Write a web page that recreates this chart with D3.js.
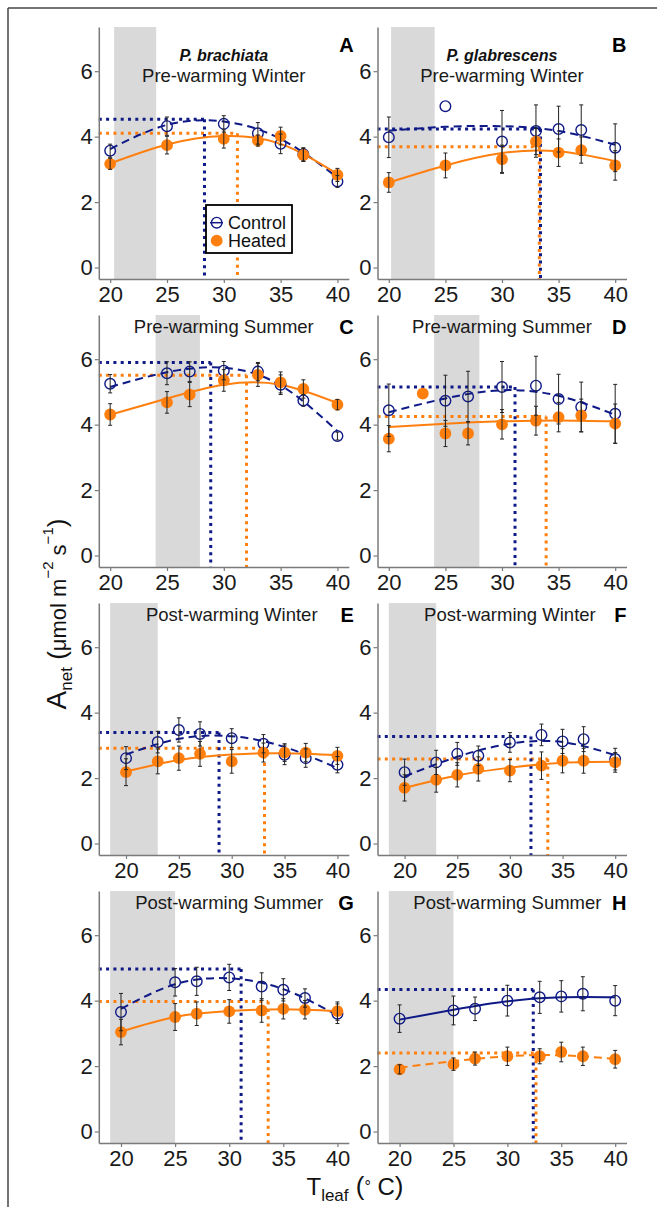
<!DOCTYPE html>
<html>
<head>
<meta charset="utf-8">
<script src="https://cdn.jsdelivr.net/npm/d3@7"></script>
<style>
body { margin: 0; background: #fff; }
svg text { font-family: "Liberation Sans", Arial, sans-serif; }
</style>
</head>
<body>
<svg id="chart" width="657" height="1207"></svg>
<script>
const panelIds = ['A', 'B', 'C', 'D', 'E', 'F', 'G', 'H'];
const seasons = ['Pre-warming Winter', 'Pre-warming Winter', 'Pre-warming Summer', 'Pre-warming Summer',
    'Post-warming Winter', 'Post-warming Winter', 'Post-warming Summer', 'Post-warming Summer'];
const species = ['P. brachiata', 'P. glabrescens'];
const bandLo = [20.35, 20.2, 24, 24, 18.5, 18.5, 19, 19];
const bandHi = [24.05, 24.05, 27.9, 28, 23, 23, 25, 25];
const xTicks = [20, 25, 30, 35, 40];
const yTicks = [0, 2, 4, 6];

// control (open circles)
const ctrlT = [
    [20, 25, 30, 33, 35, 37, 40],
    [20, 25, 30, 33, 35, 37, 40],
    [20, 25, 27, 30, 33, 35, 37, 40],
    [20, 25, 27, 30, 33, 35, 37, 40],
    [20, 23, 25, 27, 30, 33, 35, 37, 40],
    [20, 23, 25, 27, 30, 33, 35, 37, 40],
    [20, 25, 27, 30, 33, 35, 37, 40],
    [20, 25, 27, 30, 33, 35, 37, 40]
];
const ctrlA = [
    [3.57, 4.32, 4.39, 4.10, 3.78, 3.46, 2.63],
    [3.98, 4.93, 3.85, 4.17, 4.23, 4.20, 3.66],
    [5.25, 5.57, 5.62, 5.65, 5.62, 5.22, 4.74, 3.65],
    [4.44, 4.73, 4.86, 5.15, 5.19, 4.78, 4.54, 4.33],
    [2.61, 3.10, 3.47, 3.35, 3.22, 3.05, 2.71, 2.61, 2.41],
    [2.18, 2.48, 2.74, 2.68, 3.09, 3.32, 3.12, 3.19, 2.58],
    [3.65, 4.56, 4.59, 4.71, 4.43, 4.33, 4.08, 3.60],
    [3.45, 3.70, 3.75, 4.00, 4.10, 4.13, 4.21, 4.00]
];
const ctrlSE = [
    [0.20, 0.28, 0.25, 0.33, 0.30, 0.20, 0.18],
    [0.62, 0, 0.95, 0.80, 0.70, 0.77, 0.73],
    [0.28, 0.35, 0.30, 0.28, 0.28, 0.30, 0.18, 0.12],
    [0.80, 0.78, 0.77, 0.78, 0.90, 0.76, 0.76, 0.90],
    [0.35, 0.33, 0.37, 0.37, 0.29, 0.28, 0.30, 0.28, 0.25],
    [0.40, 0.37, 0.35, 0.30, 0.30, 0.33, 0.37, 0.38, 0.33],
    [0.57, 0.42, 0.43, 0.40, 0.42, 0.34, 0.28, 0.30],
    [0.42, 0.44, 0.36, 0.47, 0.49, 0.48, 0.52, 0.46]
];

// heated (filled circles)
const heatT = [
    [20, 25, 30, 33, 35, 37, 40],
    [20, 25, 30, 33, 35, 37, 40],
    [20, 25, 27, 30, 33, 35, 37, 40],
    [20, 23, 25, 27, 30, 33, 35, 37, 40],
    [20, 23, 25, 27, 30, 33, 35, 37, 40],
    [20, 23, 25, 27, 30, 33, 35, 37, 40],
    [20, 25, 27, 30, 33, 35, 37, 40],
    [20, 25, 27, 30, 33, 35, 37, 40]
];
const heatA = [
    [3.17, 3.74, 3.93, 3.88, 4.02, 3.44, 2.83],
    [2.60, 3.12, 3.31, 3.85, 3.51, 3.59, 3.12],
    [4.31, 4.68, 4.92, 5.35, 5.52, 5.29, 5.09, 4.61],
    [3.57, 4.95, 3.73, 3.73, 4.01, 4.12, 4.23, 4.28, 4.03],
    [2.18, 2.51, 2.61, 2.74, 2.51, 2.78, 2.78, 2.78, 2.68],
    [1.70, 1.95, 2.10, 2.28, 2.23, 2.38, 2.53, 2.53, 2.48],
    [3.04, 3.50, 3.60, 3.67, 3.70, 3.75, 3.72, 3.68],
    [1.90, 2.06, 2.23, 2.30, 2.30, 2.43, 2.30, 2.21]
];
const heatSE = [
    [0.17, 0.27, 0.28, 0.17, 0.27, 0.20, 0.20],
    [0.30, 0.38, 0.43, 0.40, 0.42, 0.40, 0.45],
    [0.33, 0.33, 0.37, 0.33, 0.35, 0.32, 0.28, 0.16],
    [0.40, 0, 0.40, 0.35, 0.45, 0.44, 0.45, 0.50, 0.60],
    [0.41, 0.38, 0.37, 0.38, 0.36, 0.29, 0.27, 0.28, 0.26],
    [0.40, 0.38, 0.37, 0.37, 0.34, 0.42, 0.37, 0.38, 0.30],
    [0.39, 0.41, 0.36, 0.36, 0.36, 0.31, 0.28, 0.28],
    [0.14, 0.19, 0.20, 0.28, 0.23, 0.30, 0.28, 0.27]
];

// fitted curves, read at these temperatures
const fitT = [20, 25, 30, 35, 40];
const ctrlFit = [
    [3.62, 4.36, 4.46, 3.93, 2.75],
    [4.18, 4.30, 4.32, 4.17, 3.75],
    [5.15, 5.60, 5.74, 5.20, 3.80],
    [4.38, 4.80, 5.05, 4.88, 4.30],
    [2.72, 3.20, 3.28, 2.95, 2.30],
    [2.05, 2.65, 3.05, 3.10, 2.70],
    [3.75, 4.50, 4.68, 4.35, 3.55],
    [3.42, 3.72, 3.98, 4.10, 4.10]
];
const heatFit = [
    [3.18, 3.76, 4.02, 3.78, 2.86],
    [2.60, 3.12, 3.50, 3.55, 3.25],
    [4.30, 4.80, 5.22, 5.22, 4.66],
    [3.93, 4.03, 4.10, 4.13, 4.10],
    [2.20, 2.55, 2.72, 2.76, 2.70],
    [1.70, 2.08, 2.32, 2.47, 2.50],
    [3.05, 3.50, 3.68, 3.74, 3.68],
    [1.95, 2.15, 2.30, 2.33, 2.22]
];
const ctrlTopt = [28.3, 33.4, 28.85, 31.15, 28.8, 32.0, 31.1, 32.4];
const ctrlAmax = [4.53, 4.23, 5.90, 5.15, 3.39, 3.27, 4.97, 4.34];
const heatTopt = [31.2, 33.3, 32.0, 33.9, 33.1, 33.6, 33.6, 32.65];
const heatAmax = [4.10, 3.69, 5.51, 4.25, 2.91, 2.58, 3.97, 2.40];
const ctrlDashed = [true, true, true, true, true, true, true, false];
const heatDashed = [false, false, false, false, false, false, false, true];

const navy = '#0f1a86';
const orange = '#ff7f0e';
const axisGrey = '#7a7a7a';

const svg = d3.select('#chart');

const colX = [[98.8, 348.8], [377.5, 626.5]];
const rowTop = [27, 315, 603, 891];
const plotH = 252;

// figure frame
svg.append('line').attr('x1', 8).attr('y1', 8).attr('x2', 657).attr('y2', 8)
    .attr('stroke', '#444').attr('stroke-width', 1.5);
svg.append('line').attr('x1', 8).attr('y1', 8).attr('x2', 8).attr('y2', 1207)
    .attr('stroke', '#444').attr('stroke-width', 1.5);

const drawPanel = i => {
    const col = i % 2;
    const row = Math.floor(i / 2);
    const [x0, x1] = colX[col];
    const top = rowTop[row];
    const bottom = top + plotH;

    const lo = Math.min(20, bandLo[i]);
    const pad = 0.05 * (40 - lo);
    const x = d3.scaleLinear().domain([lo - pad, 40 + pad]).range([x0, x1]);
    const y = d3.scaleLinear().domain([-0.35, 7.35]).range([bottom, top]);

    const g = svg.append('g').attr('class', 'panel');

    g.append('rect')
        .attr('x', x(bandLo[i]))
        .attr('y', top)
        .attr('width', x(bandHi[i]) - x(bandLo[i]))
        .attr('height', plotH)
        .attr('fill', '#d9d9d9');

    // optimum reference lines
    const refs = [
        { topt: heatTopt[i], amax: heatAmax[i], color: orange },
        { topt: ctrlTopt[i], amax: ctrlAmax[i], color: navy }
    ];
    refs.forEach(r => {
        g.append('path')
            .attr('d', `M${x0},${y(r.amax)}H${x(r.topt)}`)
            .attr('stroke', r.color).attr('stroke-width', 3)
            .attr('stroke-dasharray', '3,4.3').attr('fill', 'none');
        g.append('path')
            .attr('d', `M${x(r.topt)},${y(r.amax)}V${bottom}`)
            .attr('stroke', r.color).attr('stroke-width', 3)
            .attr('stroke-dasharray', '3,4.3').attr('fill', 'none');
    });

    const line = d3.line()
        .x(d => x(d[0]))
        .y(d => y(d[1]))
        .curve(d3.curveNatural);

    g.append('path')
        .datum(fitT.map((t, k) => [t, ctrlFit[i][k]]))
        .attr('d', line)
        .attr('fill', 'none')
        .attr('stroke', navy)
        .attr('stroke-width', 2)
        .attr('stroke-dasharray', ctrlDashed[i] ? '8,5' : null);

    g.append('path')
        .datum(fitT.map((t, k) => [t, heatFit[i][k]]))
        .attr('d', line)
        .attr('fill', 'none')
        .attr('stroke', orange)
        .attr('stroke-width', 2)
        .attr('stroke-dasharray', heatDashed[i] ? '8,5' : null);

    const ctrl = ctrlT[i].map((t, k) => ({ t, a: ctrlA[i][k], se: ctrlSE[i][k] }));
    const heat = heatT[i].map((t, k) => ({ t, a: heatA[i][k], se: heatSE[i][k] }));

    g.selectAll('.ctrl')
        .data(ctrl)
        .enter()
        .append('circle')
        .attr('class', 'ctrl')
        .attr('cx', d => x(d.t))
        .attr('cy', d => y(d.a))
        .attr('r', 5.3)
        .attr('fill', 'none')
        .attr('stroke', navy)
        .attr('stroke-width', 1.4);

    g.selectAll('.heat')
        .data(heat)
        .enter()
        .append('circle')
        .attr('class', 'heat')
        .attr('cx', d => x(d.t))
        .attr('cy', d => y(d.a))
        .attr('r', 5.9)
        .attr('fill', orange);

    const bars = ctrl.concat(heat).filter(d => d.se > 0);
    bars.forEach(d => {
        const cx = x(d.t);
        const yt = y(d.a + d.se);
        const yb = y(d.a - d.se);
        g.append('path')
            .attr('d', `M${cx},${yt}V${yb}M${cx - 2},${yt}H${cx + 2}M${cx - 2},${yb}H${cx + 2}`)
            .attr('stroke', '#222')
            .attr('stroke-width', 1)
            .attr('fill', 'none');
    });

    // axes
    const yAxis = d3.axisLeft(y).tickValues(yTicks).tickSize(4).tickSizeOuter(0).tickPadding(2);
    const xAxis = d3.axisBottom(x).tickValues(xTicks).tickSize(4).tickSizeOuter(0).tickPadding(3.5);

    const ya = g.append('g').attr('transform', `translate(${x0},0)`).call(yAxis);
    const xa = g.append('g').attr('transform', `translate(0,${bottom})`).call(xAxis);
    [ya, xa].forEach(a => {
        a.select('.domain').attr('stroke', axisGrey).attr('stroke-width', 1.5);
        a.selectAll('.tick line').attr('stroke', axisGrey).attr('stroke-width', 1.2);
        a.selectAll('.tick text').attr('fill', '#1a1a1a').style('font-size', '22px')
            .style('font-family', '"Liberation Sans", Arial, sans-serif');
    });

    // titles
    const titleY = row === 0 ? top + 55 : top + 18;
    g.append('text')
        .attr('x', x(30))
        .attr('y', titleY)
        .attr('text-anchor', 'middle')
        .attr('fill', '#1a1a1a')
        .style('font-size', '18.5px')
        .text(seasons[i]);
    if (row === 0) {
        g.append('text')
            .attr('x', x(30))
            .attr('y', top + 34)
            .attr('text-anchor', 'middle')
            .attr('fill', '#111')
            .style('font-size', '16px')
            .style('font-weight', 'bold')
            .style('font-style', 'italic')
            .text(species[col]);
    }
    g.append('text')
        .attr('x', col === 0 ? x1 + 5 : x1)
        .attr('y', row === 0 ? top + 25 : top + 19)
        .attr('text-anchor', 'end')
        .attr('fill', '#000')
        .style('font-size', '20px')
        .style('font-weight', 'bold')
        .text(panelIds[i]);
};

panelIds.forEach((id, i) => drawPanel(i));

// legend in panel A
const leg = svg.append('g').attr('class', 'legend');
leg.append('rect')
    .attr('x', 206).attr('y', 205).attr('width', 86).attr('height', 48)
    .attr('fill', '#fff').attr('stroke', '#000').attr('stroke-width', 1.8);
leg.append('line').attr('x1', 210).attr('x2', 223).attr('y1', 222.7).attr('y2', 222.7)
    .attr('stroke', navy).attr('stroke-width', 1.5);
leg.append('circle').attr('cx', 216.7).attr('cy', 222.7).attr('r', 5.3)
    .attr('fill', 'none').attr('stroke', navy).attr('stroke-width', 1.4);
leg.append('circle').attr('cx', 216.7).attr('cy', 240.7).attr('r', 5.9)
    .attr('fill', orange);
leg.append('text').attr('x', 228).attr('y', 229).attr('fill', '#111')
    .style('font-size', '18px').text('Control');
leg.append('text').attr('x', 228).attr('y', 247).attr('fill', '#111')
    .style('font-size', '18px').text('Heated');

// y axis label
const yl = svg.append('text')
    .attr('transform', 'translate(66,614) rotate(-90)')
    .attr('text-anchor', 'middle')
    .attr('fill', '#111')
    .style('font-size', '22px');
yl.append('tspan').text('A').style('font-size', '28px');
yl.append('tspan').text('net').attr('dy', 6).style('font-size', '17px');
yl.append('tspan').text(' (').attr('dy', -6).style('font-size', '26px');
yl.append('tspan').text('μmol m');
yl.append('tspan').text('−2').attr('dy', -13).style('font-size', '15px');
yl.append('tspan').text(' s').attr('dy', 13);
yl.append('tspan').text('−1').attr('dy', -13).style('font-size', '15px');
yl.append('tspan').text(')').attr('dy', 13).style('font-size', '26px');

// x axis label
const xl = svg.append('text')
    .attr('x', 355)
    .attr('y', 1195)
    .attr('text-anchor', 'middle')
    .attr('fill', '#111')
    .style('font-size', '24px');
xl.append('tspan').text('T');
xl.append('tspan').text('leaf').attr('dy', 6).style('font-size', '17px');
xl.append('tspan').text(' (').attr('dy', -6).style('font-size', '26px');
xl.append('tspan').text('°').attr('dy', -3).style('font-size', '16px');
xl.append('tspan').text(' C').attr('dy', 3);
xl.append('tspan').text(')').style('font-size', '26px');
</script>
</body>
</html>
